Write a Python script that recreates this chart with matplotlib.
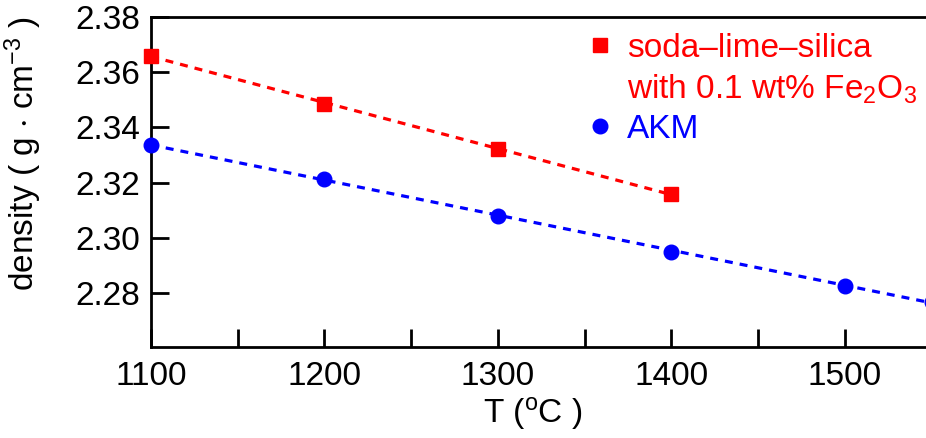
import numpy as np
import matplotlib
matplotlib.use("Agg")
import matplotlib.pyplot as plt
from matplotlib.lines import Line2D

plt.rcParams['font.family'] = ['Liberation Sans', 'DejaVu Sans']
plt.rcParams['mathtext.fontset'] = 'custom'
plt.rcParams['mathtext.rm'] = 'Liberation Sans'
plt.rcParams['mathtext.it'] = 'Liberation Sans:italic'
plt.rcParams['mathtext.default'] = 'regular'

# Data
T_sls = [1100, 1200, 1300, 1400]
rho_sls = [2.3660, 2.3486, 2.3322, 2.3158]
T_akm = [1100, 1200, 1300, 1400, 1500, 1550]
rho_akm = [2.3336, 2.3213, 2.3080, 2.2950, 2.2826, 2.2768]

label_sls_1 = "soda\u2013lime\u2013silica"
label_sls_2 = "with 0.1 wt% Fe$_2$O$_3$"
label_akm = "AKM"

xticks_major = [1100, 1200, 1300, 1400, 1500]
xticks_minor = [1150, 1250, 1350, 1450, 1550]
yticks = [2.28, 2.30, 2.32, 2.34, 2.36, 2.38]

red = '#ff0000'
blue = '#0000ff'
FS = 24

fig = plt.figure(figsize=(9.26, 4.38), dpi=100)
ax = fig.add_axes([151/926, 91/438, 867.5/926, 330/438])

for T, rho, c, m in [(T_sls, rho_sls, red, 's'), (T_akm, rho_akm, blue, 'o')]:
    p = np.polyfit(T, rho, 1)
    xs = np.array([T[0], T[-1]])
    ax.plot(xs, np.polyval(p, xs), color=c, lw=2.3, dashes=(2.5, 2.2), zorder=2, clip_on=False)
    ax.plot(T, rho, linestyle='none', marker=m, ms=10.5, color=c, mec=c, zorder=3, clip_on=False)

ax.set_xlim(1100, 1600)
ax.set_ylim(2.2604, 2.38)
ax.set_xticks(xticks_major)
ax.set_xticks(xticks_minor, minor=True)
ax.set_xticklabels([str(v) for v in xticks_major])
ax.set_yticks(yticks)
ax.set_yticklabels(["%.2f" % v for v in yticks])

for s in ['left', 'bottom', 'top']:
    ax.spines[s].set_linewidth(2.0)
ax.spines['right'].set_visible(False)
ax.tick_params(axis='both', which='both', direction='in', length=13, width=2.0,
               labelsize=FS, colors='black')
ax.tick_params(axis='x', which='both', pad=10)
ax.tick_params(axis='y', pad=8)

ax.set_xlabel("T ($^{o}$C )", fontsize=FS)
ax.xaxis.set_label_coords(0.440, -0.145)
ax.set_ylabel("density ( g $\\cdot$ cm$^{-3}$ )", fontsize=FS)
ax.yaxis.set_label_coords(-0.123, 0.585)

handles = [Line2D([], [], ls='none', marker='s', ms=10.5, color=red),
           Line2D([], [], ls='none', marker=None),
           Line2D([], [], ls='none', marker='o', ms=10.5, color=blue)]
leg = ax.legend(handles, [label_sls_1, label_sls_2, label_akm],
                loc='upper left', bbox_to_anchor=(590/926, 1 - 33/438),
                bbox_transform=fig.transFigure, frameon=False, fontsize=FS,
                handlelength=0.6, handletextpad=0.5, borderpad=0, borderaxespad=0,
                labelspacing=0.25)
for t, c in zip(leg.get_texts(), [red, red, blue]):
    t.set_color(c)

fig.savefig("out.png", dpi=100)
